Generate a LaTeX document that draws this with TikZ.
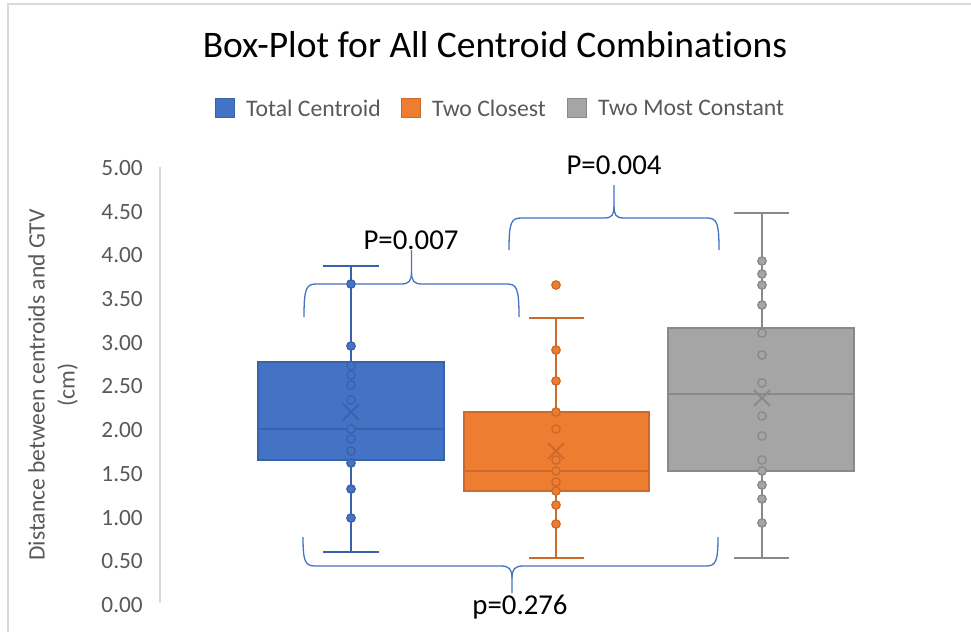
\documentclass[tikz,border=0pt]{standalone}
\usepackage{fontspec}
\setmainfont{Carlito}[Ligatures=NoCommon]
\definecolor{cblue}{HTML}{4472C4}
\definecolor{dblue}{HTML}{3A62AC}
\definecolor{corange}{HTML}{ED7D31}
\definecolor{dorange}{HTML}{CB6A2A}
\definecolor{cgray}{HTML}{A5A5A5}
\definecolor{dgray}{HTML}{898989}
\definecolor{txtgray}{HTML}{595959}
\definecolor{lgray}{HTML}{D9D9D9}
\definecolor{brcol}{HTML}{4472C4}
\tikzset{
  frameline/.style={draw=lgray, line width=1.3},
  axisline/.style={draw=lgray, line width=1.5},
  ticklab/.style={text=txtgray, font=\fontsize{23.3}{28}\selectfont, inner sep=0, anchor=east},
  axtitle/.style={text=txtgray, font=\fontsize{23.5}{30}\selectfont, inner sep=0, align=center, rotate=90},
  legtxt/.style={text=txtgray, font=\fontsize{23.7}{28}\selectfont, inner sep=0, anchor=west},
  legsq/.style={minimum size=19, inner sep=0, line width=1.2},
  charttitle/.style={text=black, font=\fontsize{37.5}{44}\selectfont, inner sep=0},
  plab/.style={text=black, font=\fontsize{28.8}{34}\selectfont, inner sep=0, anchor=base},
  boxs/.style={line width=1.5},
  whisk/.style={line width=2},
  medline/.style={line width=1.5},
  mpt/.style={line width=1.3},
  meanx/.style={line width=2},
  curly/.style={draw=brcol, line width=1.3}
}
\begin{document}
\begin{tikzpicture}[x=1pt,y=-1pt]
\useasboundingbox (0,0) rectangle (971,632);
% chart frame
\draw[frameline] (8,632) -- (8,4) -- (971,4);
% title
\node[charttitle] (title) at (495,45) {Box-Plot for All Centroid Combinations};
% legend
\node[legsq, fill=cblue, draw=dblue] (lsq1) at (225,108) {};
\node[legtxt] (leg1) at (246,108) {Total Centroid};
\node[legsq, fill=corange, draw=dorange] (lsq2) at (411,108) {};
\node[legtxt] (leg2) at (432,108) {Two Closest};
\node[legsq, fill=cgray, draw=dgray] (lsq3) at (577,108) {};
\node[legtxt] (leg3) at (598,108) {Two Most Constant};
% axis
\draw[axisline] (160,167) -- (160,603);
\foreach \v/\lab [count=\i] in {0/0.00,0.5/0.50,1/1.00,1.5/1.50,2/2.00,2.5/2.50,3/3.00,3.5/3.50,4/4.00,4.5/4.50,5/5.00}
  \node[ticklab] (tick\i) at (143,{605-87.4*\v}) {\lab};
\node[axtitle] (ytitle) at (53,385) {Distance between centroids and GTV\\(cm)};
% ---------- Total Centroid ----------
\draw[whisk, draw=dblue] (351,266) -- (351,552);
\draw[whisk, draw=dblue] (323,266) -- (379,266);
\draw[whisk, draw=dblue] (323,552) -- (379,552);
\draw[boxs, fill=cblue, draw=dblue] (258,362) rectangle (444,460);
\draw[medline, draw=dblue] (258,429) -- (444,429);
\foreach \y in {284,346,366,375,385,400,429,439,451,463,489,518}
  \draw[mpt, fill=cblue, draw=dblue] (351,\y) circle[radius=4.2];
\draw[meanx, draw=dblue] (343,404) -- (359,420) (343,420) -- (359,404);
% ---------- Two Closest ----------
\draw[whisk, draw=dorange] (556,318) -- (556,558);
\draw[whisk, draw=dorange] (529,318) -- (584,318);
\draw[whisk, draw=dorange] (529,558) -- (584,558);
\draw[boxs, fill=corange, draw=dorange] (464,412) rectangle (649,491);
\draw[medline, draw=dorange] (464,471) -- (649,471);
\foreach \y in {285,350,381,412,429,460,471,482,491,505,524}
  \draw[mpt, fill=corange, draw=dorange] (556,\y) circle[radius=4.2];
\draw[meanx, draw=dorange] (548,443) -- (564,459) (548,459) -- (564,443);
% ---------- Two Most Constant ----------
\draw[whisk, draw=dgray] (762,213) -- (762,558);
\draw[whisk, draw=dgray] (734,213) -- (789,213);
\draw[whisk, draw=dgray] (734,558) -- (789,558);
\draw[boxs, fill=cgray, draw=dgray] (668,328) rectangle (854,471);
\draw[medline, draw=dgray] (668,394) -- (854,394);
\foreach \y in {261,274,285,305,333,355,383,416,436,460,471,485,499,523}
  \draw[mpt, fill=cgray, draw=dgray] (762,\y) circle[radius=4.2];
\draw[meanx, draw=dgray] (754,390) -- (770,406) (754,406) -- (770,390);
% ---------- braces ----------
% P=0.007
\draw[curly] (304,317) .. controls (304,289) and (306,284) .. (316,284) -- (401,284)
  .. controls (409,284) and (411.5,281) .. (411.5,272) -- (411.5,250);
\draw[curly] (411.5,272) .. controls (411.5,281) and (414,284) .. (422,284) -- (507,284)
  .. controls (517,284) and (519,289) .. (519,317);
\node[plab] (p1) at (411,249) {P=0.007};
% P=0.004
\draw[curly] (509,250) .. controls (509,223) and (511,218) .. (521,218) -- (604,218)
  .. controls (612,218) and (614,215) .. (614,206) -- (614,185);
\draw[curly] (614,206) .. controls (614,215) and (616,218) .. (624,218) -- (707,218)
  .. controls (717,218) and (719,223) .. (719,250);
\node[plab] (p2) at (614,174) {P=0.004};
% p=0.276
\draw[curly] (303,537) .. controls (303,561) and (305,566) .. (315,566) -- (501,566)
  .. controls (509,566) and (512,569) .. (512,578) -- (512,593);
\draw[curly] (512,578) .. controls (512,569) and (515,566) .. (523,566) -- (706,566)
  .. controls (716,566) and (718,561) .. (718,537);
\node[plab] (p3) at (520,614) {p=0.276};
\end{tikzpicture}
\end{document}
